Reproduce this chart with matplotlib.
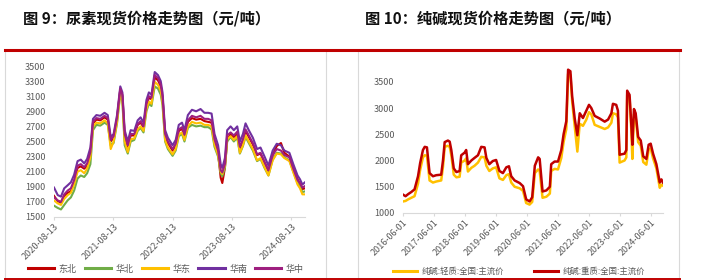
import matplotlib
matplotlib.use('Agg')
import matplotlib.pyplot as plt
from matplotlib.lines import Line2D
import pandas as pd

plt.rcParams['font.family'] = ['Noto Sans CJK SC', 'DejaVu Sans']

# Figure 9: urea spot price by region (yuan/ton)
urea_dates = [
    '2020-08-13', '2020-09-05', '2020-09-25', '2020-10-15', '2020-11-05', '2020-11-25',
    '2020-12-15', '2021-01-05', '2021-01-25', '2021-02-15', '2021-03-05', '2021-03-25',
    '2021-04-10', '2021-05-01', '2021-05-25', '2021-06-20', '2021-07-10', '2021-07-28',
    '2021-08-15', '2021-09-05', '2021-09-25', '2021-10-08', '2021-10-22', '2021-11-10',
    '2021-11-28', '2021-12-20', '2022-01-10', '2022-01-28', '2022-02-15', '2022-03-05',
    '2022-03-20', '2022-04-05', '2022-04-25', '2022-05-15', '2022-06-01', '2022-06-12',
    '2022-06-28', '2022-07-15', '2022-08-13', '2022-09-01', '2022-09-20', '2022-10-10',
    '2022-10-25', '2022-11-15', '2022-12-10', '2023-01-05', '2023-02-01', '2023-02-25',
    '2023-03-20', '2023-04-10', '2023-04-28', '2023-05-20', '2023-06-05', '2023-06-15',
    '2023-07-01', '2023-07-15', '2023-08-05', '2023-08-25', '2023-09-15', '2023-10-01',
    '2023-10-20', '2023-11-05', '2023-11-25', '2023-12-20', '2024-01-15', '2024-02-05',
    '2024-03-01', '2024-03-25', '2024-04-20', '2024-05-15', '2024-06-10', '2024-07-01',
    '2024-08-01', '2024-08-25', '2024-09-20', '2024-10-05', '2024-10-20', '2024-11-05',
]
huanan = [
    1890, 1790, 1770, 1880, 1920, 1960, 2060, 2240, 2260, 2210, 2270, 2420,
    2800, 2850, 2840, 2880, 2850, 2560, 2600, 2850, 3230, 3150, 2650, 2500,
    2650, 2640, 2780, 2820, 2750, 3050, 3150, 3120, 3420, 3380, 3300, 3150,
    2650, 2550, 2450, 2520, 2720, 2750, 2650, 2850, 2920, 2900, 2930, 2880,
    2880, 2870, 2600, 2450, 2200, 2150, 2280, 2650, 2700, 2650, 2700, 2500,
    2600, 2740, 2650, 2550, 2400, 2420, 2300, 2180, 2380, 2470, 2450, 2380,
    2350, 2200, 2050, 2000, 1930, 1960,
]
huazhong = [
    1760, 1720, 1700, 1800, 1850, 1880, 1990, 2180, 2200, 2160, 2210, 2360,
    2760, 2810, 2800, 2840, 2810, 2520, 2570, 2820, 3200, 3120, 2600, 2450,
    2600, 2600, 2730, 2770, 2700, 3000, 3100, 3080, 3380, 3340, 3250, 3100,
    2600, 2500, 2400, 2470, 2660, 2690, 2590, 2780, 2840, 2820, 2840, 2800,
    2800, 2780, 2530, 2380, 2120, 2090, 2200, 2580, 2620, 2580, 2630, 2430,
    2530, 2660, 2580, 2480, 2330, 2350, 2230, 2120, 2320, 2400, 2380, 2320,
    2290, 2140, 1990, 1950, 1890, 1910,
]
dongbei = [
    1780, 1710, 1690, 1780, 1820, 1840, 1960, 2150, 2170, 2140, 2180, 2330,
    2740, 2790, 2780, 2820, 2790, 2500, 2550, 2800, 3190, 3100, 2580, 2430,
    2580, 2580, 2720, 2750, 2690, 2980, 3080, 3060, 3350, 3310, 3230, 3080,
    2580, 2480, 2380, 2450, 2640, 2670, 2570, 2760, 2810, 2790, 2800, 2770,
    2760, 2750, 2500, 2350, 2020, 1950, 2150, 2520, 2600, 2560, 2600, 2400,
    2500, 2640, 2560, 2460, 2320, 2340, 2220, 2110, 2320, 2440, 2480, 2350,
    2300, 2150, 2000, 1940, 1870, 1880,
]
huadong = [
    1720, 1680, 1660, 1740, 1790, 1820, 1930, 2100, 2120, 2080, 2140, 2290,
    2700, 2750, 2740, 2780, 2740, 2400, 2500, 2760, 3150, 3050, 2500, 2360,
    2530, 2540, 2660, 2700, 2640, 2930, 3030, 3000, 3290, 3250, 3170, 3020,
    2520, 2420, 2330, 2400, 2590, 2620, 2520, 2700, 2760, 2740, 2750, 2720,
    2720, 2700, 2460, 2320, 2100, 2070, 2180, 2530, 2570, 2520, 2570, 2350,
    2450, 2580, 2500, 2400, 2250, 2280, 2160, 2050, 2250, 2340, 2330, 2280,
    2240, 2090, 1930, 1880, 1800, 1800,
]
huabei = [
    1650, 1620, 1600, 1660, 1720, 1760, 1850, 2010, 2050, 2030, 2080, 2200,
    2650, 2720, 2710, 2750, 2720, 2450, 2480, 2740, 3130, 3030, 2450, 2340,
    2500, 2520, 2640, 2680, 2620, 2900, 3000, 2970, 3230, 3200, 3120, 2980,
    2500, 2400, 2310, 2380, 2570, 2600, 2500, 2680, 2720, 2700, 2710, 2690,
    2690, 2660, 2430, 2300, 2080, 2040, 2150, 2500, 2560, 2500, 2550, 2340,
    2440, 2560, 2480, 2380, 2240, 2270, 2150, 2050, 2260, 2350, 2340, 2290,
    2250, 2100, 1950, 1900, 1830, 1840,
]
urea_names = ['东北', '华北', '华东', '华南', '华中']
urea_colors = ['#C00000', '#70AD47', '#FFC000', '#7030A0', '#9E1F7F']
urea_ticks = ['2020-08-13', '2021-08-13', '2022-08-13', '2023-08-13', '2024-08-13']

# Figure 10: soda ash spot price (yuan/ton)
soda_dates = [
    '2016-06-01', '2016-07-01', '2016-08-01', '2016-09-07', '2016-10-15', '2016-11-25',
    '2016-12-20', '2017-01-22', '2017-02-12', '2017-03-10', '2017-04-10', '2017-05-20',
    '2017-06-28', '2017-08-25', '2017-09-15', '2017-10-05', '2017-11-12', '2017-12-03',
    '2017-12-22', '2018-01-20', '2018-02-20', '2018-03-30', '2018-04-18', '2018-05-28',
    '2018-06-15', '2018-07-06', '2018-08-15', '2018-09-22', '2018-11-01', '2018-12-10',
    '2019-01-18', '2019-02-08', '2019-03-15', '2019-04-25', '2019-06-03', '2019-07-12',
    '2019-08-22', '2019-10-01', '2019-11-01', '2019-11-28', '2020-01-07', '2020-03-07',
    '2020-04-15', '2020-05-22', '2020-07-01', '2020-08-01', '2020-09-01', '2020-10-10',
    '2020-10-28', '2020-12-01', '2021-01-15', '2021-02-25', '2021-03-13', '2021-04-22',
    '2021-06-01', '2021-07-10', '2021-08-06', '2021-09-07', '2021-09-28', '2021-10-25',
    '2021-11-15', '2021-12-15', '2022-01-15', '2022-02-12', '2022-03-22', '2022-05-01',
    '2022-06-01', '2022-06-28', '2022-08-07', '2022-10-05', '2022-12-03', '2023-01-12',
    '2023-02-20', '2023-03-10', '2023-04-18', '2023-05-08', '2023-05-28', '2023-07-25',
    '2023-08-15', '2023-08-25', '2023-09-22', '2023-10-12', '2023-10-25', '2023-11-13',
    '2023-12-03', '2024-01-01', '2024-02-01', '2024-03-01', '2024-04-07', '2024-05-04',
    '2024-05-28', '2024-06-25', '2024-08-03', '2024-09-12', '2024-10-01', '2024-10-20',
]
soda_heavy = [
    1350, 1320, 1360, 1400, 1450, 1700, 1950, 2200, 2260, 2250, 1760, 1700,
    1720, 1730, 2000, 2350, 2380, 2360, 2200, 1850, 1780, 1800, 2100, 2150,
    2200, 1930, 2000, 2050, 2100, 2260, 2250, 2050, 1930, 1990, 2010, 1800,
    1760, 1870, 1890, 1700, 1620, 1570, 1510, 1260, 1220, 1300, 1900, 2060,
    2030, 1410, 1430, 1500, 1930, 1980, 1980, 2200, 2500, 2750, 3730, 3700,
    3220, 2800, 2480, 2900, 2810, 2950, 3060, 3000, 2850, 2800, 2740, 2780,
    2900, 3080, 3060, 2950, 2110, 2130, 2200, 3330, 3250, 2700, 2300, 2980,
    2900, 2450, 2380, 2080, 2030, 2300, 2320, 2130, 1930, 1580, 1640, 1580,
]
soda_light = [
    1220, 1230, 1260, 1290, 1320, 1560, 1820, 2060, 2100, 2090, 1620, 1580,
    1600, 1620, 1880, 2260, 2280, 2260, 2100, 1730, 1680, 1690, 1960, 2000,
    2040, 1790, 1860, 1900, 1960, 2070, 2060, 1900, 1800, 1850, 1870, 1660,
    1630, 1720, 1740, 1580, 1500, 1470, 1420, 1190, 1160, 1210, 1760, 1830,
    1800, 1290, 1310, 1370, 1800, 1840, 1830, 2050, 2350, 2600, 3650, 3630,
    3120, 2650, 2170, 2700, 2660, 2780, 2920, 2880, 2680, 2640, 2600, 2630,
    2720, 2900, 2880, 2820, 1960, 2000, 2060, 3250, 3200, 2600, 2030, 2880,
    2820, 2350, 2280, 1970, 1920, 2200, 2230, 2040, 1850, 1480, 1540, 1520,
]
soda_names = ['纯碱:轻质:全国:主流价', '纯碱:重质:全国:主流价']
soda_colors = ['#FFC000', '#C00000']
soda_ticks = ['2016-06-01', '2017-06-01', '2018-06-01', '2019-06-01', '2020-06-01',
              '2021-06-01', '2022-06-01', '2023-06-01', '2024-06-01']

W, H = 701, 280
fig = plt.figure(figsize=(W / 100, H / 100), dpi=100)


def fx(px):
    return px / W


def fy(py):
    return 1 - py / H


# Frame lines around the two panels
grey = '#D9D9D9'
red = '#C00000'
for x in [5, 326, 358, 679]:
    fig.add_artist(Line2D([fx(x), fx(x)], [fy(50), fy(278)], color=grey, lw=0.8))
fig.add_artist(Line2D([fx(5), fx(680)], [fy(49.5), fy(49.5)], color=red, lw=2.2))
fig.add_artist(Line2D([fx(5), fx(680)], [fy(278.5), fy(278.5)], color=red, lw=1.4))

# Titles
fig.text(fx(23), fy(19), '图 9：尿素现货价格走势图（元/吨）', fontsize=11,
         fontweight='bold', va='center', ha='left', color='#111111')
fig.text(fx(365), fy(19), '图 10：纯碱现货价格走势图（元/吨）', fontsize=11,
         fontweight='bold', va='center', ha='left', color='#111111')


def style_axis(ax, ticks):
    for s in ['top', 'right', 'left']:
        ax.spines[s].set_visible(False)
    ax.spines['bottom'].set_color(grey)
    ax.spines['bottom'].set_linewidth(0.8)
    ax.tick_params(axis='y', length=0, labelsize=6.5, labelcolor='#595959', pad=6)
    ax.tick_params(axis='x', length=2.5, color=grey, labelsize=6.5,
                   labelcolor='#595959', pad=1)
    tick_pos = pd.to_datetime(ticks)
    ax.set_xticks(tick_pos)
    ax.set_xticklabels(ticks, rotation=45, ha='right', rotation_mode='anchor')
    ax.patch.set_alpha(0)


def make_legend(ax, center_x, center_y, ncol, size, spacing):
    leg = ax.legend(loc='center', bbox_to_anchor=(fx(center_x), fy(center_y)),
                    bbox_transform=fig.transFigure, ncol=ncol, frameon=False,
                    fontsize=size, handlelength=2.9, handletextpad=0.5,
                    columnspacing=spacing, labelcolor='#595959')
    for line in leg.get_lines():
        line.set_linewidth(2.2)


# Left chart
ax1 = fig.add_axes([fx(54), fy(217), fx(305 - 54), (217 - 66) / H])
d1 = pd.to_datetime(urea_dates)
urea_series = [dongbei, huabei, huadong, huanan, huazhong]
for name, vals, c in zip(urea_names, urea_series, urea_colors):
    ax1.plot(d1, vals, color=c, lw=1.5, label=name)
ax1.set_ylim(1500, 3500)
ax1.set_yticks(range(1500, 3501, 200))
ax1.set_xlim(pd.Timestamp('2020-08-13'), pd.Timestamp('2024-11-05'))
style_axis(ax1, urea_ticks)
make_legend(ax1, 166, 269, 5, 6.5, 0.9)

# Right chart
ax2 = fig.add_axes([fx(403), fy(213), fx(663 - 403), (213 - 66) / H])
d2 = pd.to_datetime(soda_dates)
for name, vals, c in zip(soda_names, [soda_light, soda_heavy], soda_colors):
    ax2.plot(d2, vals, color=c, lw=1.8, label=name)
ax2.set_ylim(1000, 3800)
ax2.set_yticks(range(1000, 3501, 500))
ax2.set_xlim(pd.Timestamp('2016-06-01'), pd.Timestamp('2024-10-20'))
style_axis(ax2, soda_ticks)
make_legend(ax2, 519, 271, 2, 6, 3.6)

fig.savefig('out.png', dpi=100)
